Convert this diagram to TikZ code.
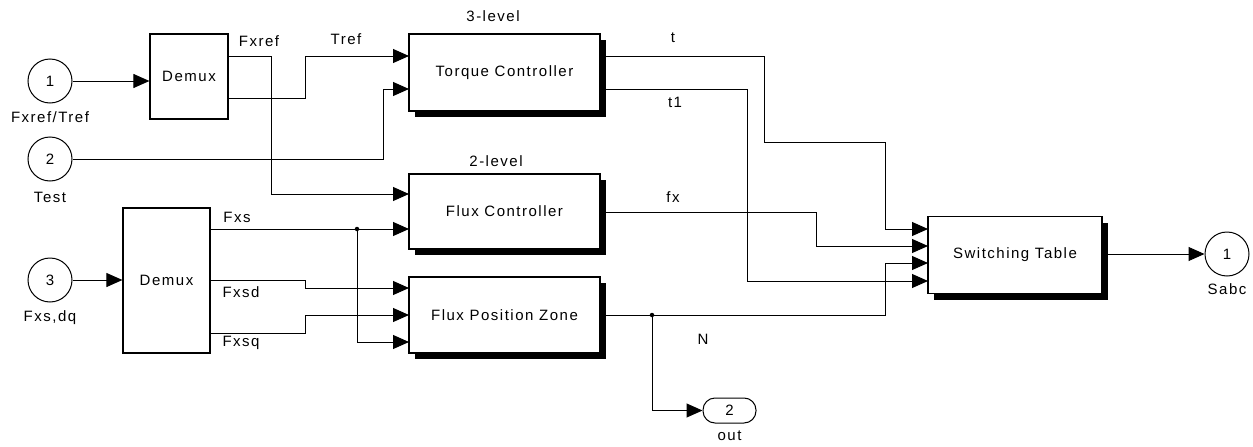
\documentclass[tikz,border=0pt]{standalone}
\usepackage{fontspec}
\setmainfont{Liberation Sans}[LetterSpace=10]
\usetikzlibrary{arrows.meta,shadows}

\begin{document}
\begin{tikzpicture}[
    x=1pt, y=-1pt,  % On travaille en pixels, y vers le bas
    font=\fontsize{15}{18}\selectfont,
    % Styles des blocs et des fils
    bloc/.style={draw, line width=1.2pt, fill=white, inner sep=0pt},
    ombre/.style={bloc, drop shadow={fill=black, opacity=1, shadow xshift=6pt, shadow yshift=-6pt}},
    port/.style={draw, circle, line width=1pt, minimum size=44pt, inner sep=0pt},
    fil/.style={line width=1pt},
    fleche/.style={fil, -{Triangle[length=16pt, width=14pt]}},
    jonction/.style={circle, fill=black, inner sep=0pt, minimum size=4.5pt},
    etiq/.style={inner sep=0pt}
]
\useasboundingbox (0,0) rectangle (1253,447);

% Entrées
\node[port, label={[label distance=5pt]below:Fxref/Tref}] (in1) at (50,81) {1};
\node[port, label={[label distance=7pt]below:Test}] (in2) at (50,159) {2};
\node[port, label={[label distance=5pt]below:{Fxs,dq}}] (in3) at (50,280) {3};

% Démultiplexeurs
\node[bloc, minimum width=78pt, minimum height=85pt] (dmx1) at (189,76.5) {Demux};
\node[bloc, minimum width=87pt, minimum height=145pt] (dmx2) at (166.5,280.5) {Demux};

% Blocs principaux
\node[ombre, minimum width=191pt, minimum height=77pt] (tc) at (504.5,72.5) {Torque Controller};
\node[ombre, minimum width=191pt, minimum height=75pt] (fc) at (504.5,211.5) {Flux Controller};
\node[ombre, minimum width=191pt, minimum height=76pt] (fpz) at (504.5,315) {Flux Position Zone};
\node[ombre, minimum width=174pt, minimum height=77pt] (st) at (1015,255) {Switching Table};
\node[etiq] (niv3) at (493,16) {3-level};
\node[etiq] (niv2) at (496,161) {2-level};

% Sorties
\node[port, label={[label distance=4pt]below:Sabc}] (out1) at (1227,254) {1};
\node[draw, line width=1pt, rounded corners=12pt, minimum width=53pt, minimum height=25pt,
      inner sep=0pt, label={[label distance=4pt]below:out}] (out2) at (729.5,410.5) {2};

% Ports des blocs
\coordinate (d1-s1) at (228,56);
\coordinate (d1-s2) at (228,98);
\coordinate (d2-s1) at (210,229);
\coordinate (d2-s2) at (210,280);
\coordinate (d2-s3) at (210,333);
\coordinate (tc-e1) at (409,56);
\coordinate (tc-e2) at (409,89);
\coordinate (tc-s1) at (600,56);
\coordinate (tc-s2) at (600,89);
\coordinate (fc-e1) at (409,194);
\coordinate (fc-e2) at (409,229);
\coordinate (fc-s) at (600,212);
\coordinate (fpz-e1) at (409,288);
\coordinate (fpz-e2) at (409,315);
\coordinate (fpz-e3) at (409,342);
\coordinate (fpz-s) at (600,315);
\coordinate (st-e1) at (928,229);
\coordinate (st-e2) at (928,246);
\coordinate (st-e3) at (928,263);
\coordinate (st-e4) at (928,281);
\coordinate (st-s) at (1102,254);

% Fils
\draw[fleche] (in1.east) -- (in1.east -| dmx1.west);
\draw[fleche] (in3.east) -- (in3.east -| dmx2.west);
\draw[fleche] (d1-s1) -- ++(43,0) |- (fc-e1);
\draw[fleche] (d1-s2) -- ++(77,0) |- (tc-e1);
\draw[fleche] (in2.east) -- ++(311,0) |- (tc-e2);
\draw[fleche] (d2-s1) -- (fc-e2);
\draw[fleche] (d2-s2) -- ++(95,0) |- (fpz-e1);
\draw[fleche] (d2-s3) -- ++(95,0) |- (fpz-e2);
\node[jonction] (j1) at (357,229) {};
\draw[fleche] (j1) |- (fpz-e3);
\draw[fleche] (tc-s1) -- ++(164,0) -- ++(0,86) -- ++(121,0) |- (st-e1);
\draw[fleche] (tc-s2) -- ++(147,0) |- (st-e4);
\draw[fleche] (fc-s) -- ++(216,0) |- (st-e2);
\draw[fleche] (fpz-s) -- ++(285,0) |- (st-e3);
\node[jonction] (j2) at (652,315) {};
\draw[fleche] (j2) |- (out2.west);
\draw[fleche] (st-s) -- (st-s -| out1.west);

% Étiquettes des signaux
\node[etiq] (l-fxref) at (259,41) {Fxref};
\node[etiq] (l-tref) at (346,39) {Tref};
\node[etiq] (l-t) at (673,38) {t};
\node[etiq] (l-t1) at (675,102) {t1};
\node[etiq] (l-fx) at (673,197) {fx};
\node[etiq] (l-fxs) at (237,217) {Fxs};
\node[etiq] (l-fxsd) at (241,292) {Fxsd};
\node[etiq] (l-fxsq) at (241,343) {Fxsq};
\node[etiq] (l-n) at (703,339) {N};
\end{tikzpicture}
\end{document}
